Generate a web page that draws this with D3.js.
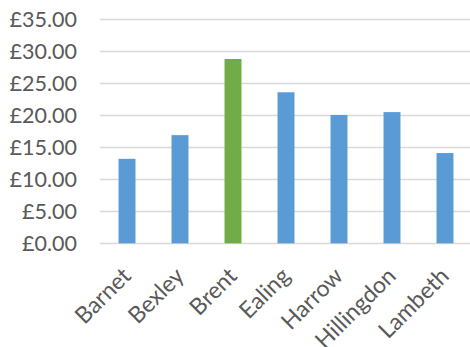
<!DOCTYPE html>
<html><head><meta charset="utf-8">
<script src="https://cdn.jsdelivr.net/npm/d3@7"></script>
<style>body{margin:0;background:#fff}svg{display:block}text{font-family:Lato,"Open Sans",sans-serif;fill:#595959}</style>
</head><body>
<script>
const categories = ["Barnet","Bexley","Brent","Ealing","Harrow","Hillingdon","Lambeth"];
const values = [13.2, 16.9, 28.8, 23.6, 20.05, 20.5, 14.1];
const highlight = ["Brent"];
const yTicks = [0,5,10,15,20,25,30,35];

const W=470,H=347;
const svg=d3.select("body").append("svg").attr("width",W).attr("height",H);
const x=d3.scaleBand().domain(categories).range([100.5,471.5]).paddingInner(0.68).paddingOuter(0.34);
const y=d3.scaleLinear().domain([0,35]).range([243.3,19.3]);

svg.append("g").selectAll("line").data(yTicks).join("line")
  .attr("x1",100).attr("x2",470).attr("y1",d=>Math.round(y(d))+0.5).attr("y2",d=>Math.round(y(d))+0.5)
  .attr("stroke","#D9D9D9").attr("stroke-width",1.5);

svg.append("g").selectAll("text").data(yTicks).join("text")
  .attr("x",77).attr("y",d=>y(d)).attr("dy","0.36em").attr("text-anchor","end")
  .style("font-size","21.5px").text(d=>"£"+d.toFixed(2));

svg.append("g").selectAll("rect").data(categories).join("rect")
  .attr("x",d=>x(d)).attr("width",x.bandwidth())
  .attr("y",(d,i)=>y(values[i])).attr("height",(d,i)=>y(0)-y(values[i]))
  .attr("fill",d=>highlight.includes(d)?"#70AD47":"#5B9BD5");

svg.append("g").selectAll("text").data(categories).join("text")
  .attr("transform",d=>`translate(${x(d)+x.bandwidth()/2-6},266) rotate(-45)`)
  .attr("text-anchor","end").attr("dy","0.7em")
  .style("font-size","23px").text(d=>d);
</script>
</body></html>
